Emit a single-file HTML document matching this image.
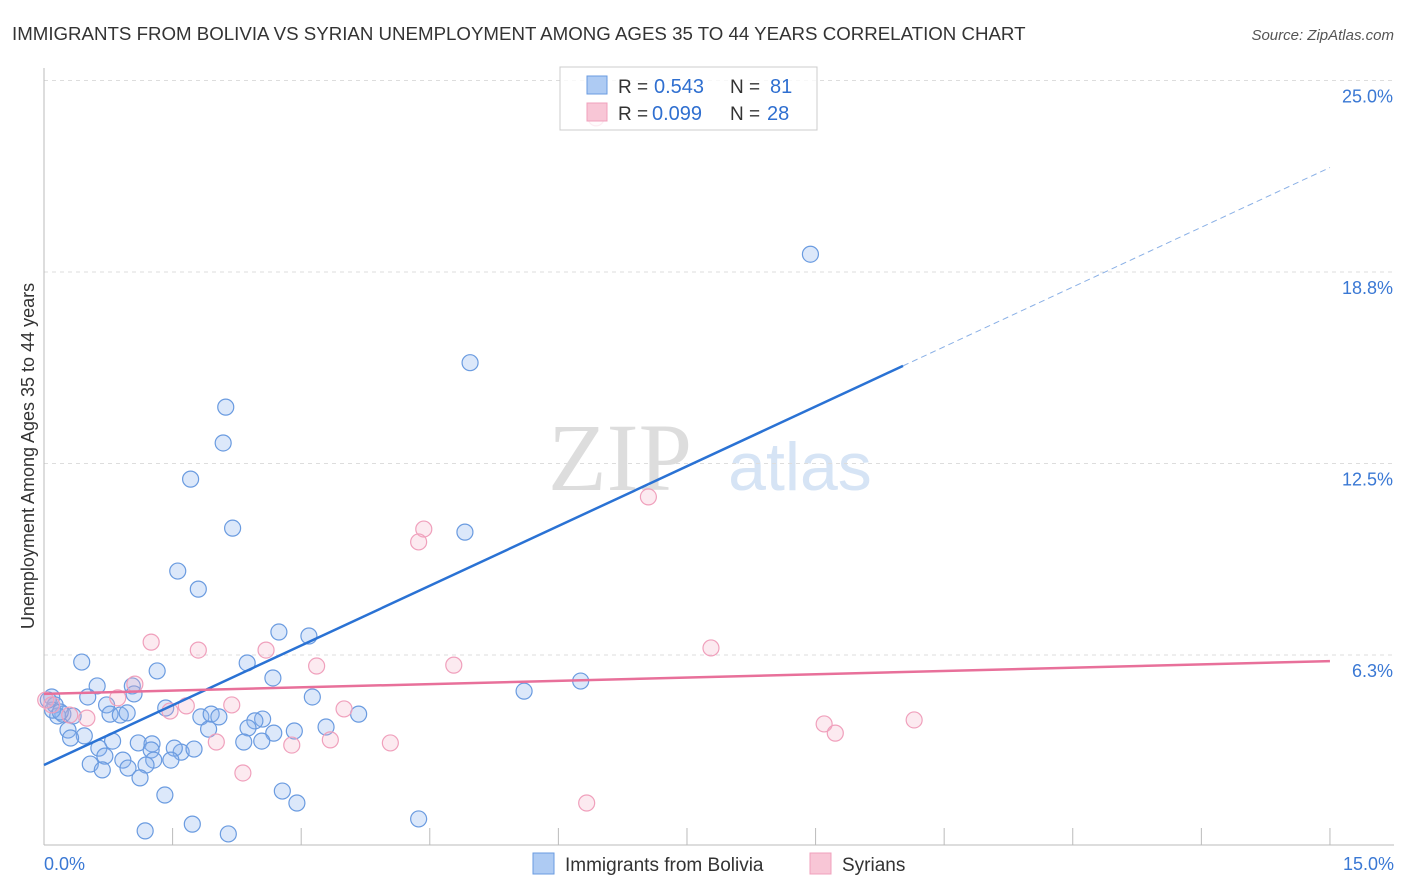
<!DOCTYPE html>
<html><head><meta charset="utf-8"><style>
body{margin:0;background:#fff;font-family:"Liberation Sans",sans-serif;}
svg{display:block}
</style></head><body>
<svg id="chart" width="1406" height="892">
<text x="12" y="40" font-size="18.7" fill="#333">IMMIGRANTS FROM BOLIVIA VS SYRIAN UNEMPLOYMENT AMONG AGES 35 TO 44 YEARS CORRELATION CHART</text>
<text x="1394" y="40" font-size="15" fill="#555" font-style="italic" text-anchor="end">Source: ZipAtlas.com</text>
<text x="620" y="490" font-size="96" fill="#ddd" font-family="Liberation Serif,serif" text-anchor="middle">ZIP</text>
<text x="800" y="490" font-size="68" fill="#d6e4f5" text-anchor="middle">atlas</text>
<text transform="translate(34,456) rotate(-90)" font-size="18" fill="#333" text-anchor="middle">Unemployment Among Ages 35 to 44 years</text>
<g id="grid"></g><g id="marks"></g>
<g>
<rect x="560" y="67" width="257" height="63" fill="#fff" fill-opacity="0.8" stroke="#ccc"/>
<rect x="587" y="76" width="20" height="18" fill="#aecbf3" stroke="#6a9be0"/>
<rect x="587" y="103" width="20" height="18" fill="#f8c6d6" stroke="#f0a0bc"/>
<text x="618" y="93" font-size="19" fill="#333">R = </text><text x="654" y="93" font-size="20" fill="#2f6fd0">0.543</text>
<text x="730" y="93" font-size="19" fill="#333">N = </text><text x="770" y="93" font-size="20" fill="#2f6fd0">81</text>
<text x="618" y="120" font-size="19" fill="#333">R = </text><text x="652" y="120" font-size="20" fill="#2f6fd0">0.099</text>
<text x="730" y="120" font-size="19" fill="#333">N = </text><text x="767" y="120" font-size="20" fill="#2f6fd0">28</text>
</g>
<g>
<rect x="533" y="853" width="21" height="21" fill="#aecbf3" stroke="#6a9be0"/>
<text x="565" y="871" font-size="19" fill="#333">Immigrants from Bolivia</text>
<rect x="810" y="853" width="21" height="21" fill="#f8c6d6" stroke="#f0a0bc"/>
<text x="842" y="871" font-size="19" fill="#333">Syrians</text>
</g>
</svg>
<script>
const blueX=[8.94,4.97,2.12,2.09,1.71,4.91,2.20,1.56,1.80,2.74,3.09,0.44,1.32,2.37,2.67,3.13,5.60,6.26,0.62,1.03,0.51,1.05,0.09,0.13,0.73,1.42,0.77,0.89,0.97,0.22,0.34,0.16,1.83,1.95,2.04,2.55,2.46,3.67,1.92,2.38,2.68,2.92,3.29,0.28,0.47,0.31,0.80,1.10,1.26,2.33,2.54,0.64,1.25,1.60,1.75,1.52,0.71,0.92,1.28,1.48,0.54,1.19,0.98,0.68,1.12,1.41,2.78,2.95,4.37,1.73,1.18,2.15,0.10,0.19,0.05];
const blueY=[19.33,15.79,14.34,13.17,11.99,10.26,10.39,8.99,8.40,7.00,6.87,6.02,5.73,5.99,5.50,4.88,5.07,5.40,5.24,5.24,4.88,4.98,4.88,4.62,4.62,4.52,4.32,4.29,4.36,4.32,4.26,4.26,4.23,4.32,4.23,4.16,4.10,4.32,3.83,3.87,3.70,3.77,3.90,3.80,3.61,3.54,3.44,3.38,3.35,3.41,3.44,3.21,3.15,3.08,3.18,3.21,2.95,2.82,2.82,2.82,2.69,2.66,2.56,2.50,2.24,1.68,1.81,1.42,0.90,0.73,0.51,0.41,4.45,4.39,4.78];
const pinkX=[6.44,7.05,4.43,4.37,1.25,1.80,2.59,3.18,4.78,7.78,1.06,0.86,0.02,0.09,0.30,0.50,1.47,1.66,2.19,3.50,9.10,9.23,10.15,3.34,2.89,4.04,2.01,2.32,6.33];
const pinkY=[23.78,11.41,10.36,9.94,6.67,6.41,6.41,5.89,5.92,6.48,5.30,4.85,4.78,4.62,4.29,4.19,4.42,4.59,4.62,4.49,4.00,3.70,4.13,3.48,3.31,3.38,3.41,2.40,1.42];
const yTicks=[6.25,12.5,18.75,25];
const yTickLabels=["6.3%","12.5%","18.8%","25.0%"];
const xTicks=[0,1.5,3,4.5,6,7.5,9,10.5,12,13.5,15];
const blueFit=[2.66,1.30];
const pinkFit=[4.98,0.0713];
const X=v=>44+v*85.73, Y=v=>846.5-v*30.64;
const NS="http://www.w3.org/2000/svg";
function mk(t,a,p){const e=document.createElementNS(NS,t);for(const k in a)e.setAttribute(k,a[k]);p.appendChild(e);return e;}
const grid=document.getElementById('grid'), marks=document.getElementById('marks');
yTicks.forEach((t,i)=>{
 const l=mk('line',{x1:44,x2:1394,y1:Y(t),y2:Y(t),stroke:'#ddd','stroke-dasharray':'4,4'},grid);
 
 
 const tx=mk('text',{x:1393,y:Y(t)+22,'font-size':18,fill:'#3a78d4','text-anchor':'end'},grid);
 tx.textContent=yTickLabels[i];
 
 
});
const ax=mk('line',{x1:44,x2:1394,y1:845,y2:845,stroke:'#bbb'},grid);


const ay=mk('line',{x1:44,x2:44,y1:68,y2:845,stroke:'#bbb'},grid);


xTicks.forEach(t=>{
 const l=mk('line',{x1:X(t),x2:X(t),y1:828,y2:845,stroke:'#bbb'},grid);
 
 
});
const xl0=mk('text',{x:44,y:870,'font-size':18,fill:'#3a78d4'},grid);xl0.textContent="0.0%";


const xl1=mk('text',{x:1394,y:870,'font-size':18,fill:'#3a78d4','text-anchor':'end'},grid);xl1.textContent="15.0%";


blueX.forEach((v,i)=>{
 const c=mk('circle',{cx:X(v),cy:Y(blueY[i]),r:8,fill:'rgba(140,180,240,0.3)',stroke:'#6a9be0','stroke-width':1.2},marks);
 
 
});
pinkX.forEach((v,i)=>{
 const c=mk('circle',{cx:X(v),cy:Y(pinkY[i]),r:8,fill:'rgba(245,170,195,0.25)',stroke:'#f0a0bc','stroke-width':1.2},marks);
 
 
});
const bf=x=>blueFit[0]+blueFit[1]*x, pf=x=>pinkFit[0]+pinkFit[1]*x;
const b1=mk('line',{x1:X(0),y1:Y(bf(0)),x2:X(10.02),y2:Y(bf(10.02)),stroke:'#2a72d4','stroke-width':2.5},marks);


const b2=mk('line',{x1:X(10.02),y1:Y(bf(10.02)),x2:X(15),y2:Y(bf(15)),stroke:'#8ab0e6','stroke-width':1,'stroke-dasharray':'6,4'},marks);


const p1=mk('line',{x1:X(0),y1:Y(pf(0)),x2:X(15),y2:Y(pf(15)),stroke:'#e8709a','stroke-width':2.5},marks);


</script>
</body></html>
